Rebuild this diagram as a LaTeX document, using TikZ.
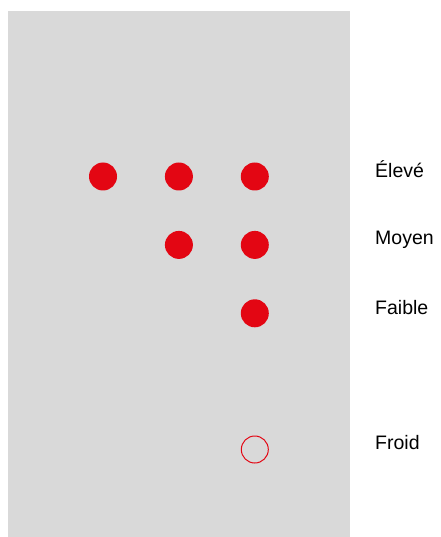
\documentclass[tikz,border=0pt]{standalone}
\usepackage{fontspec}
\setmainfont{Liberation Sans}
\usetikzlibrary{positioning}
\definecolor{levelred}{HTML}{E30613}
\definecolor{panelgray}{HTML}{D9D9D9}

\begin{document}
\begin{tikzpicture}[
	x=1pt, y=-1pt, % pixel-like units, y pointing down
	node distance=40pt and 47.5pt, % Vertical and Horizontal gaps between dots
	% Style for the filled level dots
	dot/.style={
		circle,
		fill=levelred,
		minimum size=28pt,
		inner sep=0pt
	},
	% Style for the empty (cold) dot
	ring/.style={
		circle,
		draw=levelred,
		line width=1pt,
		minimum size=27pt,
		inner sep=0pt
	},
	% Style for the level names
	level/.style={
		anchor=base west,
		inner sep=0pt,
		font=\fontsize{19.5}{22}\selectfont
	}
	]
	
	\useasboundingbox (0,0) rectangle (440,537);
	
	% --- PANEL ---
	\fill[panelgray] (8,11) rectangle (350,537);
	
	% --- DOTS ---
	
	% High: three dots
	\node[dot] at (103,176.5) (high1) {};
	\node[dot, right=of high1] (high2) {};
	\node[dot, right=of high2] (high3) {};
	
	% Medium: two dots
	\node[dot, below=of high2] (mid2) {};
	\node[dot, below=of high3] (mid3) {};
	
	% Low: one dot
	\node[dot, below=of mid3] (low3) {};
	
	% Cold: empty circle
	\node[ring, below=108pt of low3] (cold3) {};
	
	% --- LABELS ---
	\node[level] at (375,178) (lblhigh) {Élevé};
	\node[level] at (375,244.5) (lblmid) {Moyen};
	\node[level] at (375,314) (lbllow) {Faible};
	\node[level] at (375,449.5) (lblcold) {Froid};
	
\end{tikzpicture}
\end{document}
